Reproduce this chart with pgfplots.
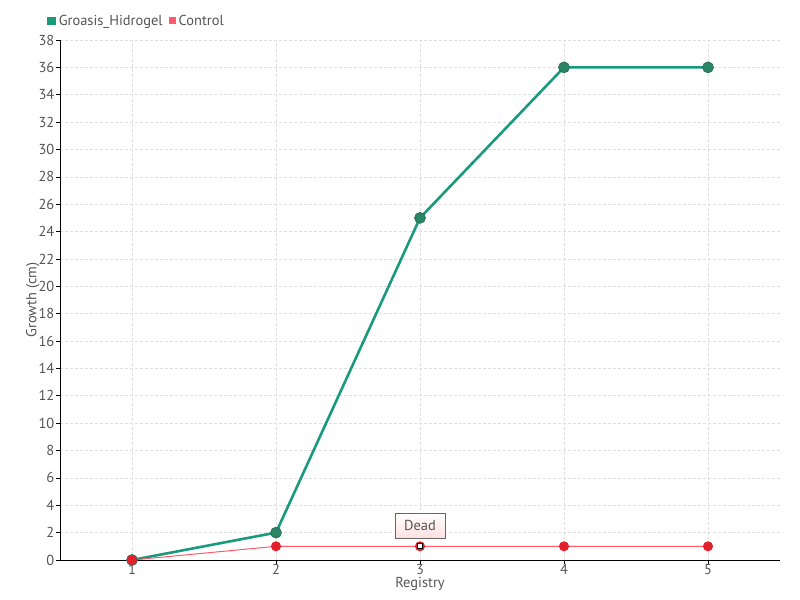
\documentclass[border=0pt]{standalone}
\usepackage{pgfplots}
\pgfplotsset{compat=1.18}
\usepackage{fontspec}
\setmainfont{PT Sans}
\definecolor{groline}{HTML}{1A9A7C}
\definecolor{gromark}{HTML}{2A8565}
\definecolor{ctlline}{HTML}{FF5A6A}
\definecolor{ctlmark}{HTML}{E3202B}
\definecolor{txtgray}{HTML}{555555}
\begin{document}
\begin{tikzpicture}[x=1bp,y=1bp]
\useasboundingbox (0,0) rectangle (800,600);
\begin{axis}[
  at={(60bp,40bp)}, anchor=south west,
  scale only axis, width=720bp, height=520bp,
  xmin=0.5, xmax=5.5, ymin=0, ymax=38,
  xtick={1,2,3,4,5}, ytick={0,2,...,38},
  axis x line*=bottom, axis y line*=left,
  axis line style={black, line width=0.8pt},
  x axis line style={-}, y axis line style={-},
  grid=major, major grid style={densely dashed, gray!25, line width=0.6pt},
  tick style={black, line width=0.6pt}, tick align=outside, major tick length=4bp,
  ticklabel style={font=\fontsize{14.5}{15}\selectfont, text=txtgray, inner sep=1.5bp},
  xticklabel style={inner sep=1bp, yshift=1bp},
  /pgf/number format/assume math mode=true,
  xlabel={Registry}, ylabel={Growth (cm)},
  label style={font=\fontsize{14.5}{15}\selectfont, text=txtgray},
  xlabel style={yshift=-1bp, inner sep=1bp},
  ylabel style={yshift=-6bp},
  legend style={at={(-16bp,530bp)}, anchor=south west, draw=none, fill=none,
    font=\fontsize{14.5}{15}\selectfont, text=txtgray, legend columns=2,
    /tikz/every odd column/.append style={column sep=2bp},
    /tikz/every even column/.append style={column sep=5bp},
    nodes={inner sep=1bp}},
  legend image code/.code={\fill[#1] (2bp,-3bp) rectangle (8bp,3bp);},
  clip=false,
]
\addplot[groline, line width=2.6pt, mark=*, mark size=5.5bp,
  mark options={fill=gromark, draw=gromark!80!black, line width=0.6pt}]
  coordinates {(1,0) (2,2) (3,25) (4,36) (5,36)};
\addlegendentry{Groasis\_Hidrogel}
\addplot[ctlline, line width=1pt, mark=*, mark size=4.5bp,
  mark options={fill=ctlmark, draw=ctlmark}]
  coordinates {(1,0) (2,1) (3,1) (4,1) (5,1)};
\addlegendentry{Control}
\addplot[forget plot, only marks, mark=square*, mark size=2.5bp,
  mark options={fill=white, draw=black, line width=1.2pt}]
  coordinates {(3,1)};
\node[draw=gray!80!black, line width=0.6pt, top color=white, bottom color=red!12,
  font=\fontsize{14.5}{15}\selectfont, text=txtgray, minimum width=50bp, minimum height=25bp,
  inner sep=2bp] (tip) at ([yshift=21bp]axis cs:3,1) {Dead};
\end{axis}
\end{tikzpicture}
\end{document}
